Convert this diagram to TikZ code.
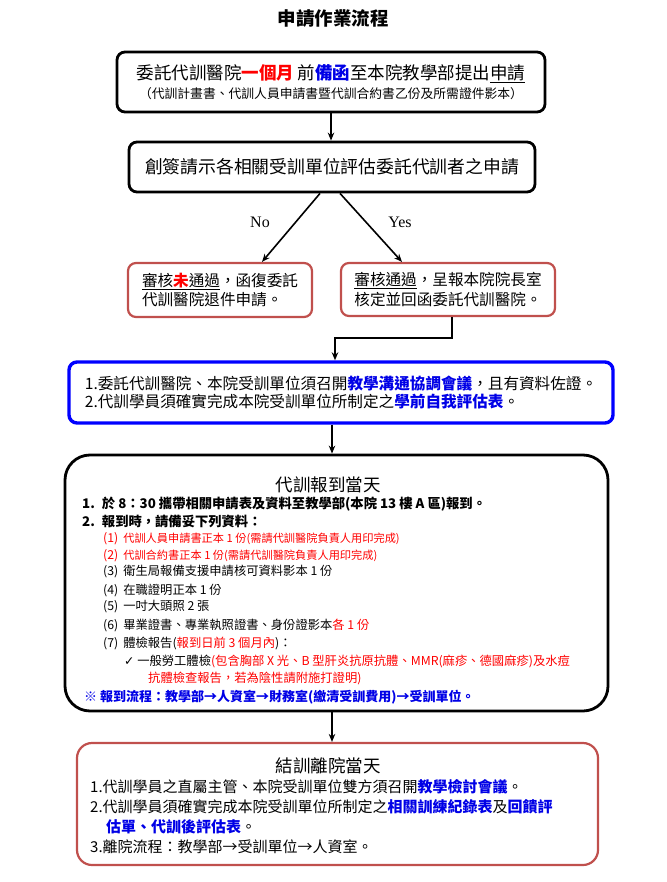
\documentclass[tikz,border=0pt]{standalone}
\usepackage{fontspec}
\setmainfont{Liberation Serif}
\newfontfamily\cjk{Noto Sans CJK TC}
\newfontfamily\symfont{DejaVu Sans}
\usetikzlibrary{arrows.meta, positioning, calc}

\definecolor{boxred}{HTML}{C0504D}
\definecolor{txtblue}{HTML}{0000E6}
\definecolor{txtred}{HTML}{FF0000}
\newcommand{\fsz}[1]{\fontsize{#1}{#1}\selectfont}
\newcommand{\emblue}[1]{\textcolor{txtblue}{\bfseries #1}}
\newcommand{\emred}[1]{\textcolor{txtred}{\bfseries #1}}

\begin{document}
\begin{tikzpicture}[
    x=1pt, y=-1pt,
    blackbox/.style={draw, line width=2.8pt, rounded corners=8pt, inner sep=0pt},
    redbox/.style={draw=boxred, line width=2.2pt, rounded corners=8pt, inner sep=0pt},
    bluebox/.style={draw=blue, line width=3.4pt, rounded corners=8pt, inner sep=0pt},
    arr/.style={-{Stealth[length=8pt, width=6.5pt]}, line width=1.6pt},
    row/.style={anchor=west, inner sep=0pt, font=\cjk\fsz{12.3}},
    redrow/.style={row, text=txtred, font=\cjk\fsz{11.2}},
    bigrow/.style={anchor=west, inner sep=0pt, font=\cjk\fsz{15}},
    yn/.style={font=\rmfamily\fsz{16}},
]
\useasboundingbox (0,0) rectangle (666,882);

% ── Title ──
\node[font=\cjk\bfseries\fsz{18.5}] (title) at (333,18) {申請作業流程};

% ── Application and review ──
\node[blackbox, minimum width=428pt, minimum height=60pt, align=center, font=\cjk] (apply) at (331,82)
    {{\fsz{17.5}委託代訓醫院\emred{一個月} 前\emblue{備函}至本院教學部提出\underline{申請}}\\[4pt]
     {\fsz{12.8}（代訓計畫書、代訓人員申請書暨代訓合約書乙份及所需證件影本）}};
\node[blackbox, minimum width=406pt, minimum height=50pt, font=\cjk\fsz{17.8}] (check) at (332,167)
    {創簽請示各相關受訓單位評估委託代訓者之申請};

\node[redbox, minimum width=184pt, minimum height=54pt, align=left, font=\cjk\fsz{15.6}] (reject) at (220,290)
    {\underline{審核\emred{未}通過}，函復委託\\[2pt]代訓醫院退件申請。};
\node[redbox, minimum width=214pt, minimum height=53pt, align=left, font=\cjk\fsz{15.6}] (accept) at (448,289.5)
    {\underline{審核通過}，呈報本院院長室\\[2pt]核定並回函委託代訓醫院。};

\node[yn] (nolab) at (260,222) {No};
\node[yn] (yeslab) at (400,222) {Yes};

% ── Coordination meeting ──
\node[bluebox, minimum width=544pt, minimum height=61pt, align=left, font=\cjk\fsz{15.6}] (meeting) at (341,392.5)
    {1.委託代訓醫院、本院受訓單位須召開\emblue{教學溝通協調會議}，且有資料佐證。\\[2pt]
     2.代訓學員須確實完成本院受訓單位所制定之\emblue{學前自我評估表}。};

% ── Report day ──
\node[blackbox, rounded corners=25pt, minimum width=543pt, minimum height=256pt] (report) at (336.5,583) {};
\node[font=\cjk\fsz{17.5}] (rtitle) at (328,485) {代訓報到當天};
\node[row, font=\cjk\bfseries\fsz{13.3}] (r1) at (82,504) {1.\hspace{7pt}於 8：30 攜帶相關申請表及資料至教學部(本院 13 樓 A 區)報到。};
\node[row, font=\cjk\bfseries\fsz{13.3}] (r2) at (82,521) {2.\hspace{7pt}報到時，請備妥下列資料：};
\node[redrow] (ri1) at (103,539) {{\fsz{12.3}(1)}\hspace{5pt}代訓人員申請書正本 1 份(需請代訓醫院負責人用印完成)};
\node[redrow] (ri2) at (103,556) {{\fsz{12.3}(2)}\hspace{5pt}代訓合約書正本 1 份(需請代訓醫院負責人用印完成)};
\node[row] (ri3) at (103,572) {(3)\hspace{5pt}衛生局報備支援申請核可資料影本 1 份};
\node[row] (ri4) at (103,590) {(4)\hspace{5pt}在職證明正本 1 份};
\node[row] (ri5) at (103,607) {(5)\hspace{5pt}一吋大頭照 2 張};
\node[row] (ri6) at (103,625) {(6)\hspace{5pt}畢業證書、專業執照證書、身份證影本\textcolor{txtred}{各 1 份}};
\node[row] (ri7) at (103,643) {(7)\hspace{5pt}體檢報告(\textcolor{txtred}{報到日前 3 個月內})：};
\node[row] (rck) at (124,661) {{\symfont ✓} 一般勞工體檢\textcolor{txtred}{(包含胸部 X 光、B 型肝炎抗原抗體、MMR(麻疹、德國麻疹)及水痘}};
\node[row, text=txtred] (rck2) at (148,678) {抗體檢查報告，若為陰性請附施打證明)};
\node[row, text=txtblue, font=\cjk\bfseries\fsz{13}] (rflow) at (84,697) {※ 報到流程：教學部→人資室→財務室(繳清受訓費用)→受訓單位。};

% ── Leaving day ──
\node[redbox, rounded corners=15pt, minimum width=521pt, minimum height=122pt] (leave) at (337.5,804) {};
\node[font=\cjk\fsz{17.5}] (etitle) at (328,766) {結訓離院當天};
\node[bigrow] (e1) at (90,787) {1.代訓學員之直屬主管、本院受訓單位雙方須召開\emblue{教學檢討會議}。};
\node[bigrow] (e2) at (90,807) {2.代訓學員須確實完成本院受訓單位所制定之\emblue{相關訓練紀錄表}及\emblue{回饋評}};
\node[bigrow] (e2b) at (106,827) {\emblue{估單、代訓後評估表}。};
\node[bigrow] (e3) at (90,847) {3.離院流程：教學部→受訓單位→人資室。};

% ── Arrows ──
\draw[arr] (apply.south) -- (apply.south |- check.north);
\draw[arr] ($(check.south)+(-12,0)$) -- ($(reject.north)+(42,0)$);
\draw[arr] ($(check.south)+(8,0)$) -- ($(accept.north)+(-46,0)$);
\draw[arr] ($(accept.south)+(4,0)$) -- ++(0,21) -| ($(meeting.north)+(-6,0)$);
\draw[arr] (meeting.south -| check.south) -- (report.north -| check.south);
\draw[arr] (report.south -| check.south) -- (leave.north -| check.south);

\end{tikzpicture}
\end{document}
